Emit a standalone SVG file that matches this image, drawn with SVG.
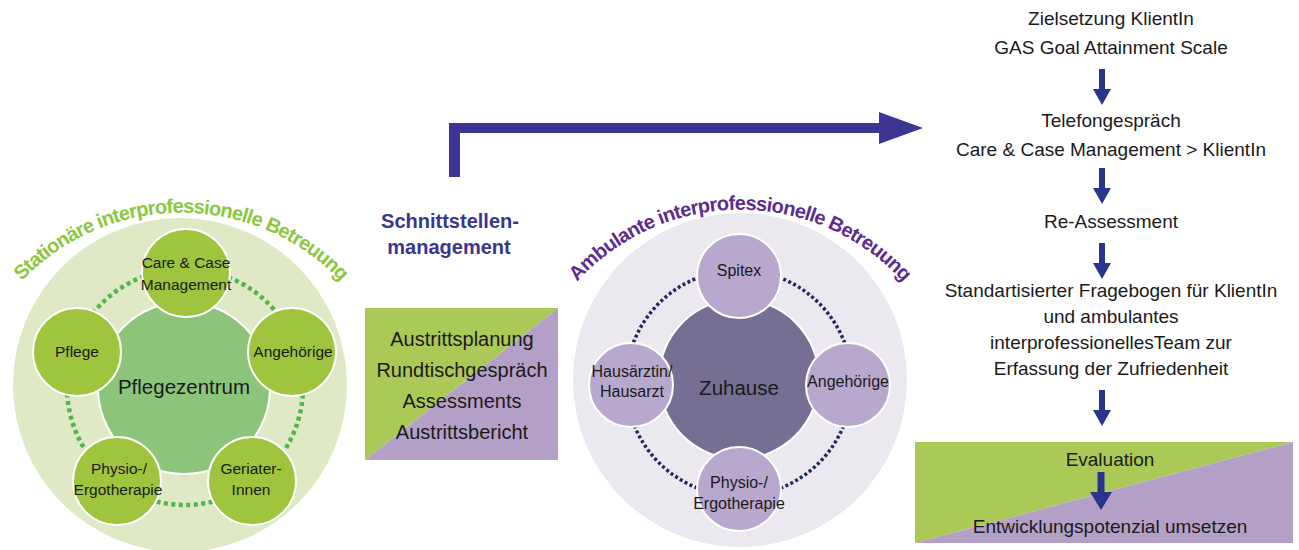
<svg xmlns="http://www.w3.org/2000/svg" xmlns:xlink="http://www.w3.org/1999/xlink" width="1299" height="550" viewBox="0 0 1299 550">
<style>
text{font-family:"Liberation Sans",Arial,sans-serif;fill:#1a1a1a}
.lbl{font-size:15.5px;text-anchor:middle}
.lblr{font-size:16px;text-anchor:middle}
.big{font-size:20.5px;text-anchor:middle}
.flow{font-size:19px;text-anchor:middle}
.box{font-size:20px;text-anchor:middle}
.arcg{font-size:20px;font-weight:bold;fill:#8dc63f;letter-spacing:-0.8px}
.arcp{font-size:20px;font-weight:bold;fill:#5c2d8e;letter-spacing:-0.7px}
.sg{fill:#9fc43e;stroke:#fff;stroke-width:2}
.sp{fill:#b9a8cd;stroke:#fff;stroke-width:2}
.arr{fill:#27368b}
</style>
<defs>
<path id="arcL" d="M -35.7 394.8 A 220 220 0 0 1 397.7 394.8"/>
<path id="arcR" d="M 523.3 391.8 A 220 220 0 0 1 956.7 391.8"/>
<path id="dn" d="M -3 0 H 3 V 20 H 9 L 0 36 L -9 20 H -3 Z"/>
</defs>
<rect width="1299" height="550" fill="#fff"/>

<g id="stationaer">
<circle cx="180" cy="385" r="167" fill="#dfe9c5"/>
<circle cx="185" cy="387" r="118" fill="none" stroke="#4fb74a" stroke-width="4.5" stroke-dasharray="4 3.5"/>
<text class="arcg"><textPath xlink:href="#arcL" href="#arcL" startOffset="50%" text-anchor="middle">Stationäre interprofessionelle Betreuung</textPath></text>
</g>
<g id="pflegezentrum">
<circle cx="184" cy="388" r="86" fill="#8cc47a" stroke="#fff" stroke-width="2"/>
<text class="big" x="184" y="394">Pflegezentrum</text>
</g>
<g id="care-case">
<circle class="sg" cx="186" cy="273" r="44"/>
<text class="lbl" x="186" y="268">Care &amp; Case</text>
<text class="lbl" x="186" y="290">Management</text>
</g>
<g id="pflege">
<circle class="sg" cx="77" cy="352" r="44"/>
<text class="lbl" x="77" y="357">Pflege</text>
</g>
<g id="angehoerige-l">
<circle class="sg" cx="292" cy="352" r="44"/>
<text class="lbl" x="293" y="357">Angehörige</text>
</g>
<g id="physio-l">
<circle class="sg" cx="117" cy="481" r="44"/>
<text class="lbl" x="119" y="474">Physio-/</text>
<text class="lbl" x="118" y="495">Ergotherapie</text>
</g>
<g id="geriater">
<circle class="sg" cx="252" cy="481" r="44"/>
<text class="lbl" x="251" y="474">Geriater-</text>
<text class="lbl" x="251" y="495">Innen</text>
</g>

<g id="schnittstellen">
<text x="450" y="228" style="font-size:20px;font-weight:bold;fill:#3a3592;text-anchor:middle">Schnittstellen-</text>
<text x="449" y="254" style="font-size:20px;font-weight:bold;fill:#3a3592;text-anchor:middle">management</text>
</g>
<g id="austritt">
<polygon points="365,308 558,308 365,460" fill="#abc956"/>
<polygon points="558,308 558,460 365,460" fill="#b4a0c6"/>
<text class="box" x="462" y="346">Austrittsplanung</text>
<text class="box" x="462" y="377">Rundtischgespräch</text>
<text class="box" x="462" y="408">Assessments</text>
<text class="box" x="462" y="439">Austrittsbericht</text>
</g>

<g id="ambulant">
<circle cx="740" cy="380" r="167" fill="#ebe8f0"/>
<circle cx="739" cy="383" r="113" fill="none" stroke="#1f2a60" stroke-width="3.5" stroke-dasharray="3 2.5"/>
<text class="arcp"><textPath xlink:href="#arcR" href="#arcR" startOffset="50%" text-anchor="middle">Ambulante interprofessionelle Betreuung</textPath></text>
</g>
<g id="zuhause">
<circle cx="739" cy="379" r="80" fill="#776e94" stroke="#fff" stroke-width="2"/>
<text class="big" x="739" y="395">Zuhause</text>
</g>
<g id="spitex">
<circle class="sp" cx="739" cy="276" r="42"/>
<text class="lblr" x="739" y="276">Spitex</text>
</g>
<g id="hausarzt">
<circle class="sp" cx="631" cy="385" r="42"/>
<text class="lblr" x="632" y="377">Hausärztin/</text>
<text class="lblr" x="632" y="397">Hausarzt</text>
</g>
<g id="angehoerige-r">
<circle class="sp" cx="848" cy="385" r="42"/>
<text class="lblr" x="848" y="387">Angehörige</text>
</g>
<g id="physio-r">
<circle class="sp" cx="739" cy="489" r="42"/>
<text class="lblr" x="739" y="488">Physio-/</text>
<text class="lblr" x="739" y="509">Ergotherapie</text>
</g>

<g id="zielsetzung">
<text class="flow" x="1111" y="25">Zielsetzung KlientIn</text>
<text class="flow" x="1111" y="54">GAS Goal Attainment Scale</text>
</g>
<g id="telefon">
<text class="flow" x="1111" y="127">Telefongespräch</text>
<text class="flow" x="1111" y="156">Care &amp; Case Management &gt; KlientIn</text>
</g>
<g id="reassessment">
<text class="flow" x="1111" y="228">Re-Assessment</text>
</g>
<g id="fragebogen">
<text class="flow" x="1111" y="297">Standartisierter Fragebogen für KlientIn</text>
<text class="flow" x="1111" y="323">und ambulantes</text>
<text class="flow" x="1111" y="349">interprofessionellesTeam zur</text>
<text class="flow" x="1111" y="375">Erfassung der Zufriedenheit</text>
</g>
<g id="evaluation">
<polygon points="915,442 1293,442 915,543" fill="#abc956"/>
<polygon points="1293,442 1293,543 915,543" fill="#b4a0c6"/>
<text class="flow" x="1110" y="466">Evaluation</text>
<text class="flow" x="1110" y="533">Entwicklungspotenzial umsetzen</text>
</g>

<g id="connectors">
<polygon points="449,177 449,123 879,123 879,112 923,128 879,144 879,133 460,133 460,177" fill="#3c3594"/>
<use href="#dn" xlink:href="#dn" class="arr" x="1102" y="69"/>
<use href="#dn" xlink:href="#dn" class="arr" x="1102" y="168"/>
<use href="#dn" xlink:href="#dn" class="arr" x="1102" y="243"/>
<use href="#dn" xlink:href="#dn" class="arr" x="1102" y="390"/>
<path class="arr" d="M 1097.5 472 H 1104.5 V 492 H 1112 L 1101 510 L 1090 492 H 1097.5 Z"/>
</g>
</svg>
